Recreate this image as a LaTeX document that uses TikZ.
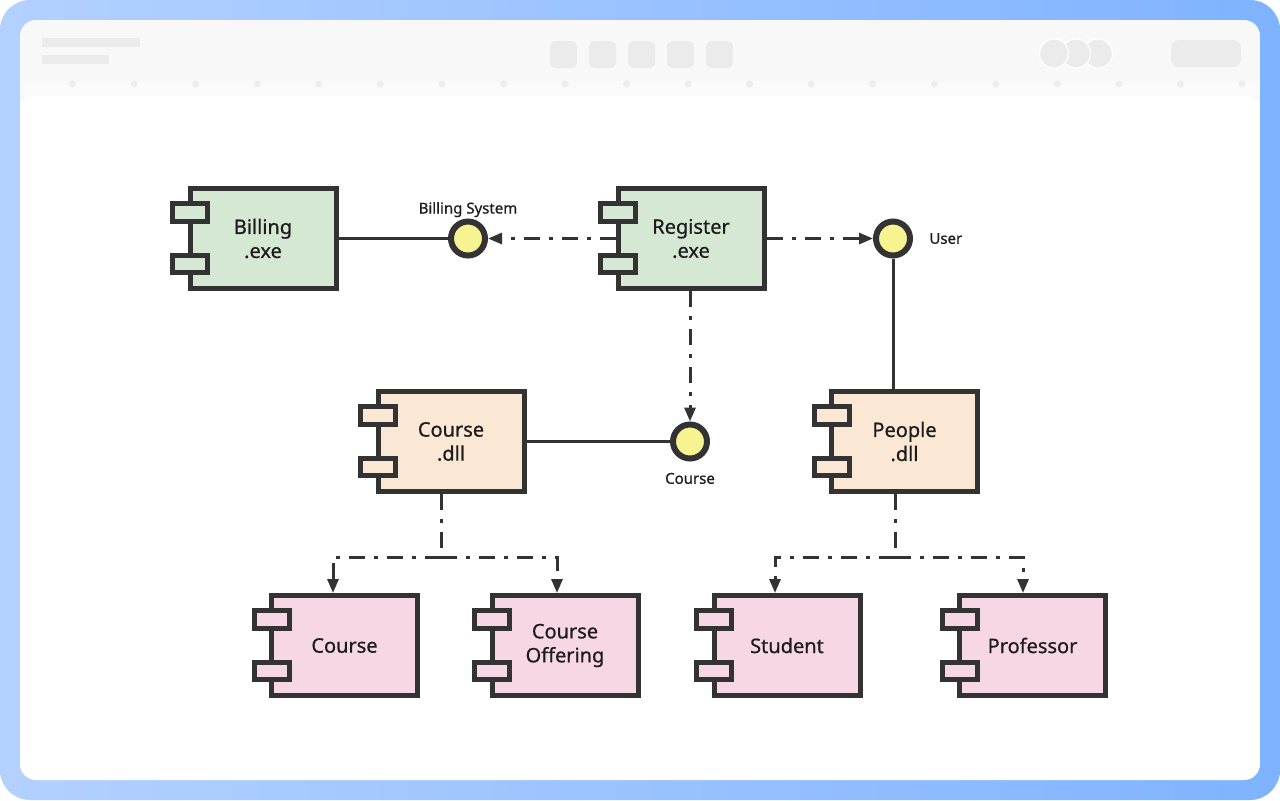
\documentclass[tikz,border=0pt]{standalone}
\usepackage{fontspec}
\setmainfont{Noto Sans}[FakeBold=0.6]
\usetikzlibrary{arrows.meta}

\definecolor{ink}{HTML}{333333}
\definecolor{txt}{HTML}{1C1C1C}
\definecolor{compgreen}{HTML}{D5E8D4}
\definecolor{comporange}{HTML}{FAE8D5}
\definecolor{comppink}{HTML}{F7D7E4}
\definecolor{ifyellow}{HTML}{F8F391}
\definecolor{bgl}{HTML}{B3D1FF}
\definecolor{bgr}{HTML}{7FB3FF}
\definecolor{tbar}{HTML}{F8F8F8}
\definecolor{tstripe}{HTML}{FAFAFA}
\definecolor{ph}{HTML}{EBEBEB}
\definecolor{phdot}{HTML}{EDEDED}

% component box with its two tabs
\newcommand\umlcomp[4]{%
  \node[comp,fill=#3] (#1) at (#2) {#4};
  \node[tab,fill=#3] (#1-a) at ([xshift=1.25pt,yshift=-13.25pt]#1.north west) {};
  \node[tab,fill=#3] (#1-b) at ([xshift=1.25pt,yshift=13.5pt]#1.south west) {};
}

\begin{document}
\begin{tikzpicture}[x=0.5pt,y=-0.5pt,
    comp/.style={rectangle,draw=ink,line width=2.5pt,minimum width=73pt,
      minimum height=50pt,inner sep=0pt,align=center,text=txt,
      font=\fontsize{10}{12}\selectfont},
    tab/.style={rectangle,draw=ink,line width=2.5pt,minimum width=17.5pt,
      minimum height=8.6pt,inner sep=0pt},
    iface/.style={circle,draw=ink,fill=ifyellow,line width=3pt,
      minimum size=17pt,inner sep=0pt},
    lbl/.style={inner sep=0pt,text=txt,font=\fontsize{7.5}{9}\selectfont},
    wire/.style={draw=ink,line width=1.5pt},
    depline/.style={wire,dash pattern=on 8pt off 4.5pt on 2pt off 4.5pt},
    dep/.style={depline,-{Triangle[length=7pt,width=5.5pt]}}]
  \useasboundingbox (0,0) rectangle (1280,800);
  % window frame
  \fill[white] (0,0) rectangle (1280,800);
  \shade[left color=bgl,right color=bgr,rounded corners=15pt] (0,0) rectangle (1280,800);
  \begin{scope}
    \clip[rounded corners=8pt] (20,20) rectangle (1260,780);
    \fill[tbar] (20,20) rectangle (1260,81);
    \fill[tstripe] (20,81) rectangle (1260,110);
    \foreach \i in {0,...,19}
      \fill[phdot] (72.6+61.55*\i,84) circle (1.75pt);
    \fill[white,rounded corners=8pt] (20,96) rectangle (1260,800);
  \end{scope}
  \fill[ph] (42,38) rectangle (140,47);
  \fill[ph] (42,55) rectangle (109,64);
  \foreach \x in {550,589,628,667,706}
    \fill[ph,rounded corners=3pt] (\x,41) rectangle ++(27,27);
  \foreach \x in {1098,1076,1054}
    \filldraw[fill=ph,draw=white,line width=0.6pt] (\x,53.5) circle (7.25pt);
  \fill[ph,rounded corners=4pt] (1171,40) rectangle (1241,67);

  % components
  \umlcomp{billing}{263,238.5}{compgreen}{Billing\\.exe}
  \umlcomp{register}{691,238.5}{compgreen}{Register\\.exe}
  \umlcomp{coursedll}{451,441.5}{comporange}{Course\\.dll}
  \umlcomp{peopledll}{904.5,441.5}{comporange}{People\\.dll}
  \umlcomp{course}{344.5,645.5}{comppink}{Course}
  \umlcomp{offering}{565,645.5}{comppink}{Course\\Offering}
  \umlcomp{student}{787,645.5}{comppink}{Student}
  \umlcomp{professor}{1032.5,645.5}{comppink}{Professor}

  % interfaces
  \node[iface,label={[lbl,label distance=0.5pt]above:Billing System}] (billsys) at (468,238.5) {};
  \node[iface,label={[lbl,label distance=8pt]right:User}] (user) at (893,238.5) {};
  \node[iface,label={[lbl,label distance=5.5pt]below:Course}] (coursei) at (690,441.5) {};

  % connectors
  \draw[wire] (billing) -- (billsys);
  \draw[dep] (register) -- (billsys);
  \draw[dep] (register) -- (user);
  \draw[wire] (user) -- (user |- peopledll.north);
  \draw[dep] (register.south -| coursei) -- (coursei);
  \draw[wire] (coursedll) -- (coursei);

  \coordinate (cj) at (441,557);
  \draw[depline] (cj |- coursedll.south) -- (cj);
  \draw[dep] (cj) -| ([xshift=-5.75pt]course.north);
  \draw[dep] (cj) -| ([xshift=-4pt]offering.north);

  \coordinate (pj) at (895,557);
  \draw[depline] (pj |- peopledll.south) -- (pj);
  \draw[dep] (pj) -| ([xshift=-6pt]student.north);
  \draw[dep] (pj) -| ([xshift=-4.75pt]professor.north);
\end{tikzpicture}
\end{document}
